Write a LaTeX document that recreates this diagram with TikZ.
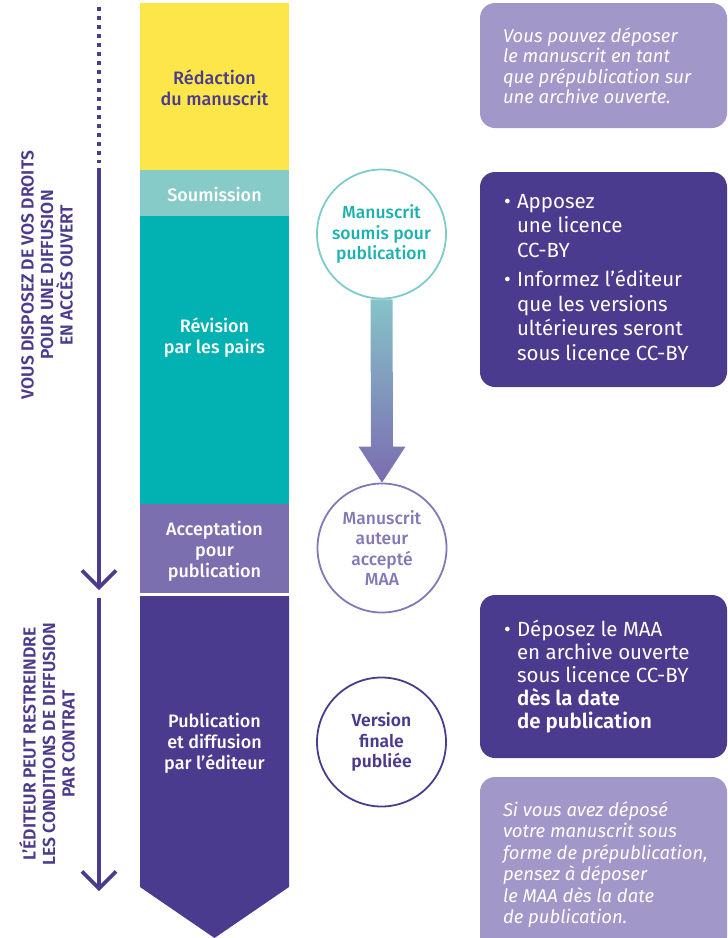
\documentclass[tikz,border=0pt]{standalone}
\usepackage{fontspec}
\setmainfont{Fira Sans}[BoldFont={Fira Sans SemiBold}, BoldItalicFont={Fira Sans SemiBold Italic}]
\newfontfamily\medfont{Fira Sans Medium}
\usepackage{xcolor}
\usepackage{tikz}
\usetikzlibrary{arrows.meta,calc}

\definecolor{violetfonce}{HTML}{4B3B8E}
\definecolor{violetmoyen}{HTML}{7B6FB0}
\definecolor{violetclair}{HTML}{A197C9}
\definecolor{jaune}{HTML}{FDE64A}
\definecolor{turquoiseclair}{HTML}{87CBC9}
\definecolor{turquoise}{HTML}{02B1B1}
\definecolor{cerclevert}{HTML}{7DCBCB}
\definecolor{textevert}{HTML}{1DB0B0}
\definecolor{cerclemauve}{HTML}{8377B8}
\definecolor{flechehaut}{HTML}{86C3C8}
\definecolor{flechebas}{HTML}{7A6CB0}

\newcommand{\puce}{\makebox[13pt][l]{\textbullet}}
\newcommand{\retrait}{\hspace*{13pt}}

\tikzset{
  etiquette/.style={align=center, text=white, font=\medfont\fontsize{18}{21}\selectfont},
  cercle/.style={circle, minimum size=129pt, line width=1.8pt, align=center, inner sep=0pt, font=\medfont\fontsize{17.5}{20.5}\selectfont},
  cadre/.style={rounded corners=15pt, minimum width=247pt, inner sep=0pt},
  note/.style={anchor=west, align=left, text=white, inner sep=0pt},
  droits/.style={rotate=90, align=center, text=violetfonce, font=\bfseries\fontsize{17.5}{19.5}\selectfont},
  axe/.style={line width=3.6pt, draw=violetfonce},
  pointe/.style={-{Straight Barb[length=17pt,width=34pt]}},
}

\begin{document}
\begin{tikzpicture}[x=1pt,y=-1pt]
    \useasboundingbox (0,0) rectangle (728,938);

    % Etapes du manuscrit
    \fill[jaune] (140,3) rectangle (289,170);
    \fill[turquoiseclair] (140,170) rectangle (289,216);
    \fill[turquoise] (140,216) rectangle (289,504);
    \fill[violetmoyen] (140,504) rectangle (289,593);
    \fill[violetfonce] (140,596) -- (289,596) -- (289,887) -- (214.5,938) -- (140,887) -- cycle;

    \node[etiquette, text=violetfonce] (redaction) at (214.5,88) {Rédaction\\du manuscrit};
    \node[etiquette] (soumission) at (214.5,194) {Soumission};
    \node[etiquette] (revision) at (214.5,338) {Révision\\par les pairs};
    \node[etiquette] (acceptation) at (214.5,551) {Acceptation\\pour\\publication};
    \node[etiquette] (publication) at (214.5,743) {Publication\\et diffusion\\par l’éditeur};

    % Axe des droits
    \coordinate (debut) at (99,7);
    \coordinate (pointilles) at (99,163);
    \coordinate (departlibre) at (99,168);
    \coordinate (finlibre) at (99,590);
    \coordinate (departcontrat) at (99,598);
    \coordinate (fincontrat) at (99,891);
    \draw[axe, dash pattern=on 4pt off 5pt] (debut) -- (pointilles);
    \draw[axe, pointe] (departlibre) -- (finlibre);
    \draw[axe, pointe] (departcontrat) -- (fincontrat);

    \node[droits] (libre) at (47,275) {VOUS DISPOSEZ DE VOS DROITS\\POUR UNE DIFFUSION\\EN ACCÈS OUVERT};
    \node[droits] (contrat) at (47,744) {L’ÉDITEUR PEUT RESTREINDRE\\LES CONDITIONS DE DIFFUSION\\PAR CONTRAT};

    % Versions du manuscrit
    \node[cercle, draw=cerclevert, text=textevert] (soumis) at (381.5,234) {Manuscrit\\soumis pour\\publication};
    \node[cercle, draw=cerclemauve, text=cerclemauve] (maa) at (382,548) {Manuscrit\\auteur\\accepté\\MAA};
    \node[cercle, draw=violetfonce, text=violetfonce, font=\bfseries\fontsize{17.5}{20.5}\selectfont] (version) at (381.5,742) {Version\\finale\\publiée};

    \shade[top color=flechehaut, bottom color=flechebas]
        ([xshift=-11pt]soumis.south) -- ([xshift=11pt]soumis.south)
        -- ([xshift=11pt,yshift=36pt]maa.north) -- ([xshift=23.5pt,yshift=36pt]maa.north)
        -- (maa.north)
        -- ([xshift=-23.5pt,yshift=36pt]maa.north) -- ([xshift=-11pt,yshift=36pt]maa.north) -- cycle;

    % Conseils
    \node[cadre, fill=violetclair, minimum height=125pt] (cadre1) at (603.5,65.5) {};
    \node[note, font=\itshape\fontsize{18.5}{20.5}\selectfont] (conseil1) at ([xshift=23pt]cadre1.west)
        {Vous pouvez déposer\\le manuscrit en tant\\que prépublication sur\\une archive ouverte.};

    \node[cadre, fill=violetfonce, minimum height=215pt] (cadre2) at (603.5,279.5) {};
    \node[note, font=\fontsize{20.5}{24.5}\selectfont] (conseil2) at ([xshift=24pt,yshift=2pt]cadre2.west)
        {\puce Apposez\\\retrait une licence\\\retrait CC-BY\\[5pt]\puce Informez l’éditeur\\\retrait que les versions\\\retrait ultérieures seront\\\retrait sous licence CC-BY};

    \node[cadre, fill=violetfonce, minimum height=163pt] (cadre3) at (603.5,676.5) {};
    \node[note, font=\fontsize{20.5}{23}\selectfont] (conseil3) at ([xshift=24pt]cadre3.west)
        {\puce Déposez le MAA\\\retrait en archive ouverte\\\retrait sous licence CC-BY\\\retrait\textbf{dès la date}\\\retrait\textbf{de publication}};

    \node[cadre, fill=violetclair, minimum height=175pt] (cadre4) at (603.5,864.5) {};
    \node[note, font=\itshape\fontsize{18.5}{21.5}\selectfont] (conseil4) at ([xshift=23pt]cadre4.west)
        {Si vous avez déposé\\votre manuscrit sous\\forme de prépublication,\\pensez à déposer\\le MAA dès la date\\de publication.};
\end{tikzpicture}
\end{document}
